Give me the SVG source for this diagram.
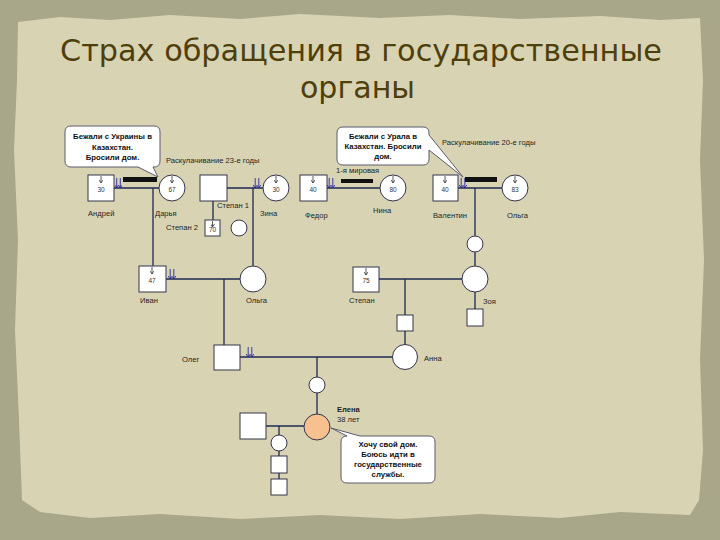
<svg xmlns="http://www.w3.org/2000/svg" width="720" height="540" viewBox="0 0 720 540">
<style>
.nd{fill:#fff;stroke:#34344a;stroke-width:1}
.ln{stroke:#1f2850;stroke-width:1.3;fill:none}
.lb{font-family:"Liberation Sans",Arial,sans-serif;font-size:7.6px;fill:#1e1e1e}
.num{font-family:"Liberation Sans",Arial,sans-serif;font-size:6.5px;fill:#333;text-anchor:middle}
.co{fill:#fff;stroke:#5a5a6e;stroke-width:1}
.ct{font-family:"Liberation Sans",Arial,sans-serif;font-size:7.8px;fill:#111;text-anchor:middle;font-weight:bold}
.bar{fill:#111}
.ar{stroke:#333;stroke-width:0.8}
.tt{font-family:"Liberation Sans Narrow","DejaVu Sans Condensed","DejaVu Sans",sans-serif;font-size:31px;fill:#4f3f0c}
</style>
<defs>
<marker id="ah" markerWidth="4" markerHeight="4" refX="2" refY="3.5" markerUnits="userSpaceOnUse" viewBox="0 0 4 4">
<path d="M0,0.5 L2,3.5 L4,0.5" fill="none" stroke="#333" stroke-width="0.8"/>
</marker>
<marker id="bh" markerWidth="4" markerHeight="4" refX="2" refY="3.5" markerUnits="userSpaceOnUse" viewBox="0 0 4 4">
<path d="M0,0.5 L2,3.5 L4,0.5" fill="none" stroke="#2a2aa0" stroke-width="0.9"/>
</marker>
<g id="dbl">
<line x1="-1.8" y1="-10" x2="-1.8" y2="0" stroke="#2a2aa0" stroke-width="0.9" marker-end="url(#bh)"/>
<line x1="1.8" y1="-10" x2="1.8" y2="0" stroke="#2a2aa0" stroke-width="0.9" marker-end="url(#bh)"/>
</g>
</defs>
<rect x="0" y="0" width="720" height="540" fill="#a8a78a"/>
<path d="M18,22 L60,17 L110,20 L170,15 L240,19 L300,14 L380,18 L450,15 L520,19 L600,16 L660,20 L700,18 L703,80 L700,160 L704,260 L700,360 L703,450 L699,500 L690,515 L620,512 L560,518 L480,514 L400,519 L320,515 L240,519 L160,514 L90,518 L40,512 L22,500 L19,420 L15,330 L18,240 L14,150 L17,80 Z" fill="#d8d4b3"/>
<text class="tt" x="60" y="61" textLength="602" lengthAdjust="spacingAndGlyphs">Страх обращения в государственные</text>
<text class="tt" x="300" y="98" textLength="115" lengthAdjust="spacingAndGlyphs">органы</text>

<g id="connectors">
<line class="ln" x1="114" y1="188" x2="159" y2="188"/>
<line class="ln" x1="153" y1="188" x2="153" y2="266"/>
<line class="ln" x1="227" y1="188" x2="263" y2="188"/>
<line class="ln" x1="213" y1="201" x2="213" y2="220"/>
<line class="ln" x1="253" y1="188" x2="253" y2="266"/>
<line class="ln" x1="327" y1="188" x2="380" y2="188"/>
<line class="ln" x1="458" y1="188" x2="502" y2="188"/>
<line class="ln" x1="475" y1="188" x2="475" y2="236"/>
<line class="ln" x1="475" y1="252" x2="475" y2="266"/>
<line class="ln" x1="475" y1="292" x2="475" y2="309"/>
<line class="ln" x1="166" y1="279" x2="240" y2="279"/>
<line class="ln" x1="224" y1="279" x2="224" y2="345"/>
<line class="ln" x1="379" y1="279" x2="462" y2="279"/>
<line class="ln" x1="405" y1="279" x2="405" y2="315"/>
<line class="ln" x1="405" y1="331" x2="405" y2="344.5"/>
<line class="ln" x1="240" y1="357" x2="392.5" y2="357"/>
<line class="ln" x1="317" y1="357" x2="317" y2="377"/>
<line class="ln" x1="317" y1="393" x2="317" y2="414"/>
<line class="ln" x1="266" y1="426" x2="304" y2="426"/>
<line class="ln" x1="279" y1="426" x2="279" y2="435"/>
<line class="ln" x1="279" y1="451" x2="279" y2="456"/>
<line class="ln" x1="279" y1="473" x2="279" y2="479"/>
<use href="#dbl" x="118.5" y="188"/>
<use href="#dbl" x="257" y="188"/>
<use href="#dbl" x="331" y="188"/>
<use href="#dbl" x="463" y="188"/>
<use href="#dbl" x="172" y="279"/>
<use href="#dbl" x="250" y="357"/>
<rect class="bar" x="123" y="177" width="34" height="5"/>
<rect class="bar" x="341" y="179" width="32" height="4"/>
<rect class="bar" x="465" y="177" width="32" height="5"/>
</g>

<g id="andrey"><rect class="nd" x="88" y="175" width="26" height="26"/><line class="ar" x1="101" y1="176" x2="101" y2="183" marker-end="url(#ah)"/><text class="num" x="101" y="192">30</text><text class="lb" x="88" y="216">Андрей</text></g>
<g id="darya"><circle class="nd" cx="172" cy="188" r="13"/><line class="ar" x1="172" y1="176" x2="172" y2="183" marker-end="url(#ah)"/><text class="num" x="172" y="192">67</text><text class="lb" x="155" y="216">Дарья</text></g>
<g id="stepan1"><rect class="nd" x="200" y="175" width="27" height="26"/><text class="lb" x="217" y="208">Степан 1</text></g>
<g id="zina"><circle class="nd" cx="276" cy="188" r="13"/><line class="ar" x1="276" y1="176" x2="276" y2="183" marker-end="url(#ah)"/><text class="num" x="276" y="192">30</text><text class="lb" x="260" y="216">Зина</text></g>
<g id="stepan2"><rect class="nd" x="205" y="220" width="15" height="16"/><line class="ar" x1="212.5" y1="221" x2="212.5" y2="227" marker-end="url(#ah)"/><text class="num" x="212.5" y="232">70</text><text class="lb" x="166" y="230">Степан 2</text></g>
<g id="circleA"><circle class="nd" cx="239" cy="228" r="8"/></g>
<g id="fedor"><rect class="nd" x="300" y="175" width="27" height="26"/><line class="ar" x1="313" y1="176" x2="313" y2="183" marker-end="url(#ah)"/><text class="num" x="313" y="192">40</text><text class="lb" x="305" y="218">Федор</text></g>
<g id="nina"><circle class="nd" cx="393" cy="188" r="13"/><line class="ar" x1="393" y1="176" x2="393" y2="183" marker-end="url(#ah)"/><text class="num" x="393" y="192">80</text><text class="lb" x="373" y="213">Нина</text></g>
<g id="valentin"><rect class="nd" x="433" y="175" width="25" height="26"/><line class="ar" x1="445" y1="176" x2="445" y2="183" marker-end="url(#ah)"/><text class="num" x="445" y="192">40</text><text class="lb" x="433" y="218">Валентин</text></g>
<g id="olga1"><circle class="nd" cx="515" cy="188" r="13"/><line class="ar" x1="515" y1="176" x2="515" y2="183" marker-end="url(#ah)"/><text class="num" x="515" y="192">83</text><text class="lb" x="507" y="218">Ольга</text></g>
<g id="circleB"><circle class="nd" cx="475" cy="244" r="8"/></g>
<g id="ivan"><rect class="nd" x="139" y="266" width="27" height="26"/><line class="ar" x1="152" y1="267" x2="152" y2="274" marker-end="url(#ah)"/><text class="num" x="152" y="283">47</text><text class="lb" x="140" y="303">Иван</text></g>
<g id="olga2"><circle class="nd" cx="253" cy="279" r="13"/><text class="lb" x="246" y="303">Ольга</text></g>
<g id="stepan"><rect class="nd" x="353" y="267" width="26" height="25"/><line class="ar" x1="366" y1="268" x2="366" y2="275" marker-end="url(#ah)"/><text class="num" x="366" y="283">75</text><text class="lb" x="349" y="303">Степан</text></g>
<g id="zoya"><circle class="nd" cx="475" cy="279" r="13"/><text class="lb" x="483" y="304">Зоя</text></g>
<g id="sqA"><rect class="nd" x="397" y="315" width="16" height="16"/></g>
<g id="sqB"><rect class="nd" x="467" y="309" width="16" height="17"/></g>
<g id="anna"><circle class="nd" cx="405" cy="357" r="12.5"/><text class="lb" x="424" y="361">Анна</text></g>
<g id="oleg"><rect class="nd" x="214" y="345" width="26" height="25"/><text class="lb" x="182" y="362">Олег</text></g>
<g id="circleC"><circle class="nd" cx="317" cy="385" r="8"/></g>
<g id="elena"><circle cx="317" cy="427" r="13" fill="#f7c08f" stroke="#34344a" stroke-width="1"/><text class="lb" x="337" y="412" font-weight="bold">Елена</text><text class="lb" x="337" y="422" font-size="7px">38 лет</text></g>
<g id="spouse"><rect class="nd" x="240" y="413" width="26" height="26"/></g>
<g id="circleD"><circle class="nd" cx="279" cy="443" r="8"/></g>
<g id="sqC"><rect class="nd" x="271" y="456" width="16" height="17"/></g>
<g id="sqD"><rect class="nd" x="271" y="479" width="16" height="16"/></g>

<g id="callout1">
<path class="co" d="M71,126 H154 Q160,126 160,132 V161 Q160,167 154,167 H153 L158,177 L138,167 H71 Q65,167 65,161 V132 Q65,126 71,126 Z"/>
<text class="ct" x="112.5" y="139">Бежали с Украины в</text>
<text class="ct" x="112.5" y="150" font-weight="normal">Казахстан.</text>
<text class="ct" x="112.5" y="160">Бросили дом.</text>
</g>
<text class="lb" x="166" y="163">Раскулачивание 23-е годы</text>
<g id="callout2">
<path class="co" d="M343,127 H423 Q429,127 429,133 V135 L463,177 L429,150 V159 Q429,165 423,165 H343 Q337,165 337,159 V133 Q337,127 343,127 Z"/>
<text class="ct" x="383" y="139">Бежали с Урала в</text>
<text class="ct" x="383" y="149">Казахстан. Бросили</text>
<text class="ct" x="383" y="159">дом.</text>
</g>
<text class="lb" x="442" y="145">Раскулачивание 20-е годы</text>
<text class="lb" x="336" y="173">1-я мировая</text>
<g id="callout3">
<path class="co" d="M347,436 L331,428 L360,436 H429 Q435,436 435,442 V477 Q435,483 429,483 H347 Q341,483 341,477 V442 Q341,436 347,436 Z"/>
<text class="ct" x="388" y="447">Хочу свой дом.</text>
<text class="ct" x="388" y="457">Боюсь идти в</text>
<text class="ct" x="388" y="467">государственные</text>
<text class="ct" x="388" y="477">службы.</text>
</g>
</svg>
